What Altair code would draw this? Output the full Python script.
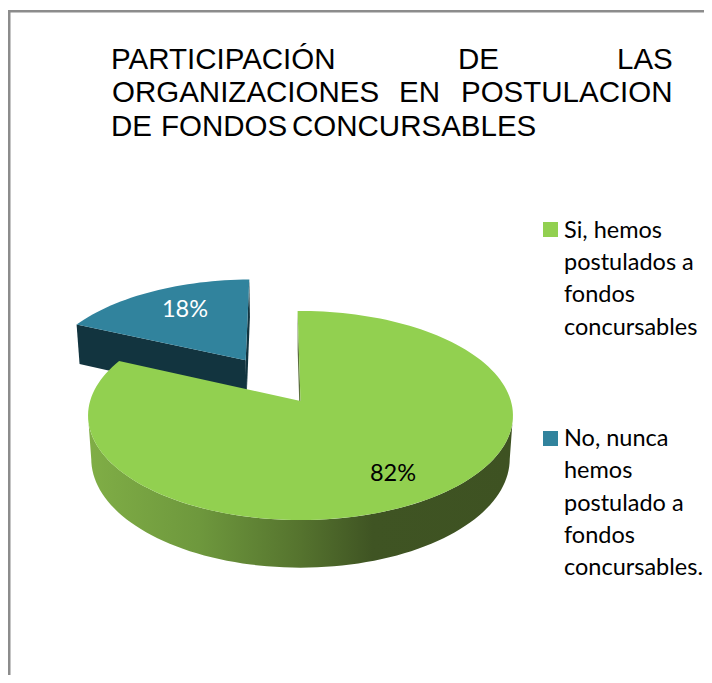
import math
import altair as alt
import pandas as pd

# ---- data ----
categories = ["Si, hemos postulados a fondos concursables",
              "No, nunca hemos postulado a fondos concursables."]
values = [82, 18]
title_lines = [["PARTICIPACIÓN", "DE", "LAS"],
               ["ORGANIZACIONES", "EN", "POSTULACION"],
               ["DE", "FONDOS", "CONCURSABLES"]]
legend_lines = [["Si, hemos", "postulados a", "fondos", "concursables"],
                ["No, nunca", "hemos", "postulado a", "fondos", "concursables."]]

# ---- drawing style and layout ----
GREEN, BLUE = "#92d050", "#31839d"
BLUE_DARK, GREEN_EDGE = "#12343f", "#5c6e3e"
W, H = 696, 667
CX, CY = 300.5, 401.0     # pie apex in page pixels
A, B, P, Q, DEPTH = 210.4, 102.5, 0.1388, 0.015, 43.5   # perspective of the 3-D pie
START = -0.9
EXPLODE = 0.502
TITLE_X = [[111, 458, 617], [112, 399, 461], [111, 161, 292]]
TITLE_Y = [69, 102, 136]
TITLE_SIZE = 29.5
LEGEND_X = 564
LEGEND_Y = [[238, 270, 302, 335], [446, 478, 511, 543, 575]]
LEGEND_SIZE = 23.5
LABEL_SIZE = 23.5
SWATCH = [(550.5, 229.5), (550.5, 438.5)]

xs = alt.Scale(domain=[8, 8 + W], range=[0, W], nice=False, zero=False)
ys = alt.Scale(domain=[8, 8 + H], range=[0, H], nice=False, zero=False)


def pt(theta, r=1.0, eu=0.0, ev=0.0, low=False):
    t = math.radians(theta)
    u = eu + r * math.sin(t)
    v = ev + r * math.cos(t)
    d = 1 + P * v + (Q if low else 0)
    y = B * v / d - (DEPTH / d if low else 0)
    return CX + A * u / d, CY - y


def poly(points, fill):
    df = pd.DataFrame({"px": [p[0] for p in points], "py": [p[1] for p in points],
                       "i": range(len(points))})
    return alt.Chart(df).mark_line(interpolate="linear-closed", fill=fill, strokeOpacity=0,
                                   clip=False).encode(
        x=alt.X("px:Q", scale=xs, axis=None),
        y=alt.Y("py:Q", scale=ys, axis=None),
        order="i:Q")


def arc(t0, t1, **kw):
    n = max(2, int(abs(t1 - t0) / 2))
    return [pt(t0 + (t1 - t0) * k / n, **kw) for k in range(n + 1)]


def word(text, x, y, size, font, color="black", align="left"):
    return alt.Chart(pd.DataFrame({"t": [text]})).mark_text(
        align=align, baseline="alphabetic", font=font, fontSize=size, color=color
    ).encode(x=alt.value(x - 8), y=alt.value(y - 8), text="t:N")


total = sum(values)
end = START + 360 * values[0] / total
mid = end + (360 * values[1] / total) / 2
eu = EXPLODE * math.sin(math.radians(mid))
ev = EXPLODE * math.cos(math.radians(mid))

layers = []
# frame
layers.append(poly([(8, 10), (704, 10), (704, 12.5), (10.5, 12.5), (10.5, 675), (8, 675)], "#8c8c8c"))

# exploded slice
blue_kw = dict(eu=eu, ev=ev)
layers.append(poly([pt(0, 0, **blue_kw), pt(end, **blue_kw),
                    pt(end, low=True, **blue_kw), pt(0, 0, low=True, **blue_kw)], BLUE_DARK))
layers.append(poly([pt(0, 0, **blue_kw), pt(START + 360, **blue_kw),
                    pt(START + 360, low=True, **blue_kw), pt(0, 0, low=True, **blue_kw)], BLUE_DARK))
layers.append(poly([pt(0, 0, **blue_kw)] + arc(end, START + 360, **blue_kw), BLUE))

# main slice: rim (between the two silhouette tangents), cut face, top
rim = alt.Gradient(gradient="linear", x1=0, x2=1, y1=0, y2=0, stops=[
    alt.GradientStop(offset=0, color="#80ae46"),
    alt.GradientStop(offset=0.26, color="#6e983d"),
    alt.GradientStop(offset=0.5, color="#55732e"),
    alt.GradientStop(offset=0.67, color="#3f5423"),
    alt.GradientStop(offset=1, color="#3e5222")])
layers.append(poly(arc(98, 262) + arc(262, 98, low=True), rim))
layers.append(poly([pt(0, 0), pt(START), pt(START, low=True), pt(0, 0, low=True)], GREEN_EDGE))
layers.append(poly([pt(0, 0)] + arc(START, end), GREEN))

# data labels
layers.append(word(f"{values[0]}%", 393, 481, LABEL_SIZE, "Lato", align="center"))
layers.append(word(f"{values[1]}%", 185, 317, LABEL_SIZE, "Lato", color="white", align="center"))

# title
for line, lx, ly in zip(title_lines, TITLE_X, TITLE_Y):
    for w, x in zip(line, lx):
        layers.append(word(w, x, ly, TITLE_SIZE, "Liberation Sans"))

# legend
for color, (sx, sy) in zip([GREEN, BLUE], SWATCH):
    df = pd.DataFrame({"px": [sx], "py": [sy]})
    layers.append(alt.Chart(df).mark_square(size=225, color=color, opacity=1).encode(
        x=alt.X("px:Q", scale=xs, axis=None), y=alt.Y("py:Q", scale=ys, axis=None)))
for lines, lys in zip(legend_lines, LEGEND_Y):
    for t, y in zip(lines, lys):
        layers.append(word(t, LEGEND_X, y, LEGEND_SIZE, "Lato"))

chart = alt.layer(*layers).properties(
    width=W, height=H, padding=0, autosize=alt.AutoSizeParams(type="none"),
    background="white"
).configure_view(stroke=None)

chart.save("out.html", embed_options={"renderer": "svg", "actions": False})
